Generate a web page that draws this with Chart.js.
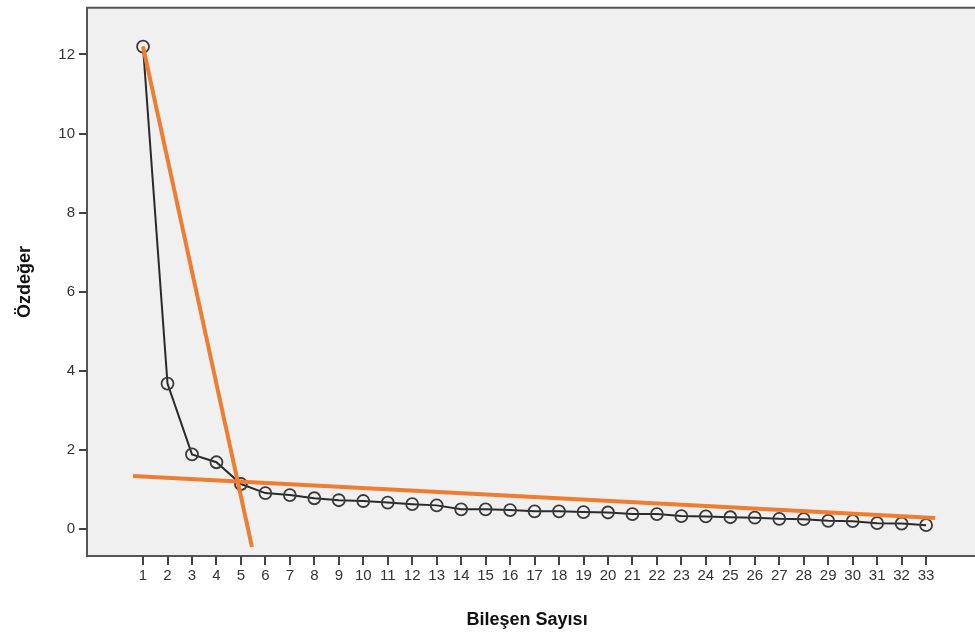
<!DOCTYPE html>
<html>
<head>
<meta charset="utf-8">
<script src="https://cdn.jsdelivr.net/npm/chart.js@4"></script>
<style>
  html, body { margin: 0; padding: 0; background: #fff; overflow: hidden; }
  canvas { display: block; }
</style>
</head>
<body>
<canvas id="myChart" width="975" height="636"></canvas>
<script>
// component numbers and eigenvalues
var components = [1, 2, 3, 4, 5, 6, 7, 8, 9, 10, 11, 12, 13, 14, 15, 16, 17,
  18, 19, 20, 21, 22, 23, 24, 25, 26, 27, 28, 29, 30, 31, 32, 33];
var eigenvalues = [12.2, 3.68, 1.89, 1.69, 1.14, 0.91, 0.86, 0.78, 0.73, 0.71, 0.67,
  0.63, 0.60, 0.50, 0.50, 0.48, 0.45, 0.45, 0.43, 0.42, 0.38, 0.38, 0.33,
  0.32, 0.30, 0.29, 0.26, 0.25, 0.21, 0.20, 0.15, 0.14, 0.10];
var yTicks = [0, 2, 4, 6, 8, 10, 12];

// the two hand drawn orange lines (end points in data units)
var steepLineX = [1, 5.45];
var steepLineY = [12.2, -0.45];
var flatLineX = [0.59, 33.37];
var flatLineY = [1.34, 0.28];

function toPoints(xs, ys) {
  return xs.map(function (x, i) { return { x: x, y: ys[i] }; });
}

// light gray plot background + frame, running to the right edge of the canvas
var plotFrame = {
  id: "plotFrame",
  beforeDraw: function (chart) {
    var a = chart.chartArea, c = chart.ctx;
    c.save();
    c.fillStyle = "#f0f0f0";
    c.fillRect(a.left, a.top, chart.width - a.left, a.bottom - a.top);
    c.strokeStyle = "#555";
    c.lineWidth = 2;
    c.beginPath();
    c.moveTo(chart.width, a.top);
    c.lineTo(a.left, a.top);
    c.lineTo(a.left, a.bottom);
    c.lineTo(chart.width, a.bottom);
    c.stroke();
    c.restore();
  }
};

document.addEventListener("DOMContentLoaded", function () {
  var ctx = document.getElementById("myChart").getContext("2d");

  var chartData = {
    datasets: [
      {
        label: "Özdeğer",
        data: toPoints(components, eigenvalues),
        showLine: true,
        borderColor: "#2a2a2a",
        borderWidth: 2,
        pointRadius: 6,
        pointBorderWidth: 1.8,
        pointBorderColor: "#3a3a3a",
        pointBackgroundColor: "rgba(0,0,0,0)",
        order: 2
      },
      {
        label: "steep",
        data: toPoints(steepLineX, steepLineY),
        showLine: true,
        borderColor: "#ee7d31",
        borderWidth: 4,
        pointRadius: 0,
        order: 1
      },
      {
        label: "flat",
        data: toPoints(flatLineX, flatLineY),
        showLine: true,
        borderColor: "#ee7d31",
        borderWidth: 4,
        pointRadius: 0,
        order: 1
      }
    ]
  };

  var myChart = new Chart(ctx, {
    type: "scatter",
    data: chartData,
    plugins: [plotFrame],
    options: {
      responsive: false,
      animation: false,
      layout: { padding: { top: 6, right: 0, left: 0, bottom: 0 } },
      plugins: {
        legend: { display: false },
        tooltip: { enabled: false }
      },
      scales: {
        x: {
          type: "linear",
          min: -1.29,
          max: 34.68,
          afterBuildTicks: function (scale) {
            scale.ticks = components.map(function (v) { return { value: v }; });
          },
          afterFit: function (scale) {
            scale.height = 80;
            scale.paddingLeft = 0;
            scale.paddingRight = 0;
          },
          border: { display: false },
          grid: { drawOnChartArea: false, drawTicks: true, tickLength: 9, color: "#444", lineWidth: 2 },
          ticks: {
            autoSkip: false,
            maxRotation: 0,
            padding: 2,
            color: "#333",
            font: { family: "Liberation Sans, Arial", size: 15 }
          },
          title: {
            display: true,
            text: "Bileşen Sayısı",
            color: "#111",
            font: { family: "Liberation Sans, Arial", size: 18, weight: "bold" },
            padding: { top: 0, bottom: 5 }
          }
        },
        y: {
          min: -0.68,
          max: 13.18,
          afterBuildTicks: function (scale) {
            scale.ticks = yTicks.map(function (v) { return { value: v }; });
          },
          afterFit: function (scale) {
            scale.width = 87;
            scale.paddingTop = 0;
            scale.paddingBottom = 0;
          },
          border: { display: false },
          grid: { drawOnChartArea: false, drawTicks: true, tickLength: 8, color: "#444", lineWidth: 2 },
          ticks: {
            padding: 4,
            color: "#333",
            font: { family: "Liberation Sans, Arial", size: 15 }
          },
          title: {
            display: true,
            text: "Özdeğer",
            color: "#111",
            font: { family: "Liberation Sans, Arial", size: 18, weight: "bold" },
            padding: { top: 14, bottom: 0 }
          }
        }
      }
    }
  });
});
</script>
</body>
</html>
